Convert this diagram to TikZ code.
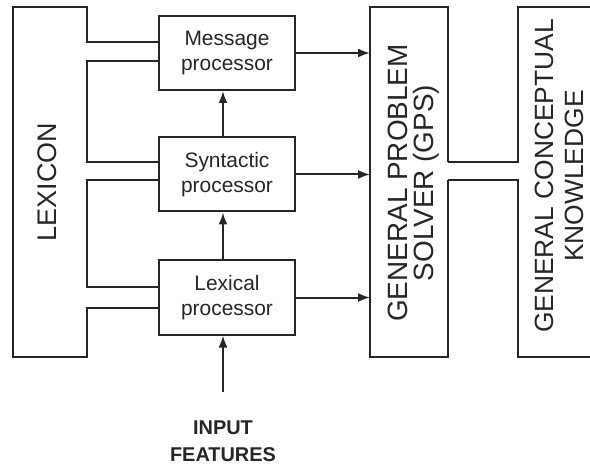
\documentclass[tikz,border=0pt]{standalone}
\usepackage{fontspec}
\setmainfont{Liberation Sans}
\usetikzlibrary{arrows.meta}

\begin{document}
\begin{tikzpicture}[x=1bp,y=-1bp,line width=2bp,color=black!85,
    proc/.style={draw,minimum width=136bp,minimum height=74bp,inner sep=0pt,align=center,font=\fontsize{21}{25}\selectfont},
    big/.style={rotate=90,align=center,inner sep=0pt},
    arr/.style={-{Latex[length=12bp,width=9bp]}}]

\useasboundingbox (0,0) rectangle (590,467);

\node[proc] (msg) at (227,53) {Message\\processor};
\node[proc] (syn) at (227,174.5) {Syntactic\\processor};
\node[proc] (lex) at (227,297.5) {Lexical\\processor};

\node[big,font=\fontsize{27}{28}\selectfont] (lexicon) at (47,182) {LEXICON};
\node[big,font=\fontsize{28}{26}\selectfont] (gps) at (414,183) {GENERAL PROBLEM\\SOLVER (GPS)};
\node[big,font=\fontsize{26.5}{30}\selectfont] (gck) at (559,176) {GENERAL CONCEPTUAL\\KNOWLEDGE};
\node[align=center,inner sep=0pt,font=\bfseries\fontsize{20}{27}\selectfont] (inp) at (223,441) {INPUT\\FEATURES};

\coordinate (gpsw) at (370,0);
\coordinate (inptop) at (223,392);

\draw (160,308) -- (87,308) -- (87,357) -- (13,357) -- (13,7) -- (87,7) -- (87,42) -- (160,42);
\draw (160,61) -- (87,61) -- (87,162) -- (160,162);
\draw (160,180) -- (87,180) -- (87,287) -- (160,287);

\draw (448,162) -- (448,7) -- (370,7) -- (370,357) -- (448,357) -- (448,180);
\draw (448,162) -- (518,162) -- (518,7) -- (600,7);
\draw (448,180) -- (518,180) -- (518,357) -- (600,357);

\draw[arr] (msg.east) -- (msg.east -| gpsw);
\draw[arr] (syn.east) -- (syn.east -| gpsw);
\draw[arr] (lex.east) -- (lex.east -| gpsw);

\draw[arr] ([xshift=-4bp]syn.north) -- ([xshift=-4bp]msg.south);
\draw[arr] ([xshift=-4bp]lex.north) -- ([xshift=-4bp]syn.south);
\draw[arr] (inptop) -- (inptop |- lex.south);

\end{tikzpicture}
\end{document}
